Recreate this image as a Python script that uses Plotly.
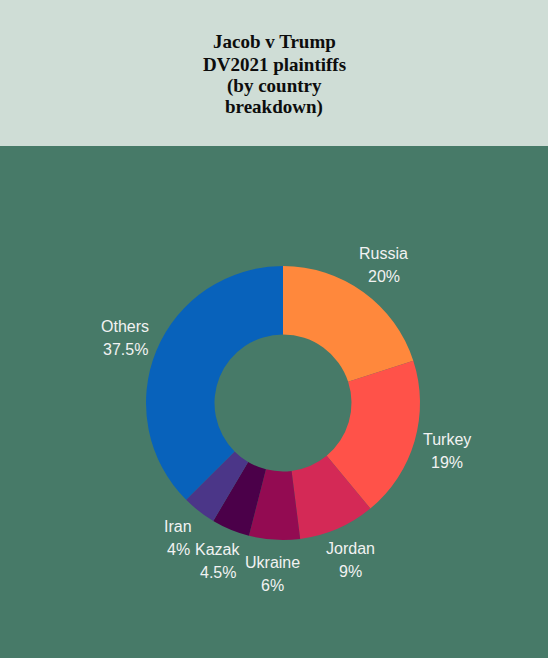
import math
import plotly.graph_objects as go

countries = ["Russia", "Turkey", "Jordan", "Ukraine", "Kazak", "Iran", "Others"]
shares = [20, 19, 9, 6, 4.5, 4, 37.5]
colors = ["#ff883c", "#ff5249", "#d42956", "#930b52", "#4b0049", "#4b3688", "#0862bb"]
title_lines = ["Jacob v Trump", "DV2021 plaintiffs", "(by country", "breakdown)"]

W, H = 548, 658
cx, cy, R = 283, 403, 137
label_r = 171
header_h = 146
line_gap = 23

fig = go.Figure()
fig.add_trace(go.Pie(
    labels=countries, values=shares, sort=False, direction="clockwise", rotation=0,
    hole=0.5, marker=dict(colors=colors, line=dict(width=0)),
    textinfo="none", hoverinfo="label+percent", showlegend=False,
    domain=dict(x=[(cx - R) / W, (cx + R) / W], y=[1 - (cy + R) / H, 1 - (cy - R) / H]),
))

label_font = dict(family="Liberation Sans, Arial", size=16, color="#f2f2f2")
total = sum(shares)
cum = 0
for name, v in zip(countries, shares):
    mid = (cum + v / 2) / total * 2 * math.pi
    cum += v
    px = cx + label_r * math.sin(mid)
    py = cy - label_r * math.cos(mid)
    for txt, off in ((name, -line_gap / 2), (f"{v:g}%", line_gap / 2)):
        fig.add_annotation(x=px / W, y=1 - (py + off) / H, xref="paper", yref="paper",
                           text=txt, showarrow=False, xanchor="center", yanchor="middle",
                           font=label_font)

fig.add_shape(type="rect", xref="paper", yref="paper", x0=0, x1=1, y0=1 - header_h / H, y1=1,
              fillcolor="#cfddd6", line=dict(width=0), layer="below")

title_y = [42, 64, 86, 107]
for line, ty in zip(title_lines, title_y):
    fig.add_annotation(x=0.5, y=1 - ty / H, xref="paper", yref="paper", showarrow=False,
                       text="<b>" + line + "</b>", xanchor="center", yanchor="middle",
                       font=dict(family="Liberation Serif, Times New Roman, serif", size=19, color="#0d0d0d"))

fig.update_layout(width=W, height=H, margin=dict(l=0, r=0, t=0, b=0),
                  paper_bgcolor="#477a68", plot_bgcolor="#477a68")
fig.write_html("out.html")
